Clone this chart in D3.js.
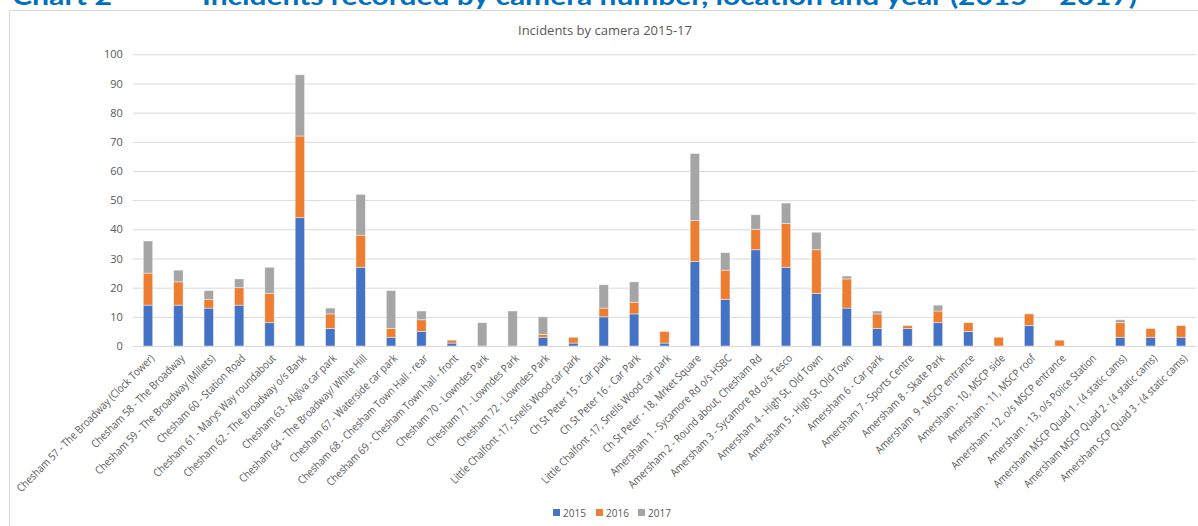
<!DOCTYPE html>
<html>
<head>
<meta charset="utf-8">
<script src="https://cdn.jsdelivr.net/npm/d3@7"></script>
<style>
  html, body { margin: 0; padding: 0; background: #fff; }
  svg { display: block; }
  text { font-family: "Open Sans", "Liberation Sans", sans-serif; }
</style>
</head>
<body>
<svg id="chart" width="1198" height="526"></svg>
<script>
// Camera locations, in display order
const cameras = [
  "Chesham 57 - The Broadway (Clock Tower)",
  "Chesham 58 - The Broadway",
  "Chesham 59 - The Broadway (Millets)",
  "Chesham 60 - Station Road",
  "Chesham 61 - Marys Way roundabout",
  "Chesham 62 - The Broadway o/s Bank",
  "Chesham 63 - Algiva car park",
  "Chesham 64 - The Broadway/ White Hill",
  "Chesham 67 - Waterside car park",
  "Chesham 68 - Chesham Town Hall - rear",
  "Chesham 69 - Chesham Town hall - front",
  "Chesham 70 - Lowndes Park",
  "Chesham 71 - Lowndes Park",
  "Chesham 72 - Lowndes Park",
  "Little Chalfont -17, Snells Wood car park",
  "Ch St Peter 15 - Car park",
  "Ch St Peter 16 - Car Park",
  "Little Chalfont -17, Snells Wood car park",
  "Ch St Peter - 18, Mrket Square",
  "Amersham 1 - Sycamore Rd o/s HSBC",
  "Amersham 2 - Round about, Chesham Rd",
  "Amersham 3 - Sycamore Rd o/s Tesco",
  "Amersham 4 - High St, Old Town",
  "Amersham 5 - High St, Old Town",
  "Amersham 6 - Car park",
  "Amersham 7 - Sports Centre",
  "Amersham 8 - Skate Park",
  "Amersham  9 - MSCP entrance",
  "Amersham - 10, MSCP side",
  "Amersham - 11, MSCP roof",
  "Amersham - 12, o/s MSCP entrance",
  "Amersham - 13, o/s Police Station",
  "Amersham MSCP Quad 1 - (4 static cams)",
  "Amersham MSCP Quad 2 - (4 static cams)",
  "Amersham SCP Quad 3 - (4 static cams)"
];

// Incidents per year for each camera
const y2015 = [14, 14, 13, 14, 8, 44, 6, 27, 3, 5, 1, 0, 0, 3, 1, 10, 11, 1, 29, 16, 33, 27, 18, 13, 6, 6, 8, 5, 0, 7, 0, 0, 3, 3, 3];
const y2016 = [11, 8, 3, 6, 10, 28, 5, 11, 3, 4, 1, 0, 0, 1, 2, 3, 4, 4, 14, 10, 7, 15, 15, 10, 5, 1, 4, 3, 3, 4, 2, 0, 5, 3, 4];
const y2017 = [11, 4, 3, 3, 9, 21, 2, 14, 13, 3, 0, 8, 12, 6, 0, 8, 7, 0, 23, 6, 5, 7, 6, 1, 1, 0, 2, 0, 0, 0, 0, 0, 1, 0, 0];

const seriesNames = ["2015", "2016", "2017"];
const seriesColors = ["#4472C4", "#ED7D31", "#A5A5A5"];
const yTicks = [0, 10, 20, 30, 40, 50, 60, 70, 80, 90, 100];

const svg = d3.select("#chart");

// Page heading above the chart frame
svg.append("text")
  .attr("x", 12).attr("y", 5)
  .attr("fill", "#0070C0")
  .attr("font-size", 24).attr("font-weight", "bold")
  .attr("textLength", 100).attr("lengthAdjust", "spacingAndGlyphs")
  .style("font-family", "Lato, 'Open Sans', sans-serif")
  .text("Chart 2");
svg.append("text")
  .attr("x", 202).attr("y", 5)
  .attr("fill", "#0070C0")
  .attr("font-size", 24).attr("font-weight", "bold")
  .attr("textLength", 935).attr("lengthAdjust", "spacingAndGlyphs")
  .style("font-family", "Lato, 'Open Sans', sans-serif")
  .text("Incidents recorded by camera number, location and year (2015 \u2013 2017)");

// Chart frame
svg.append("rect")
  .attr("x", 9.5).attr("y", 10.5)
  .attr("width", 1220).attr("height", 540)
  .attr("fill", "none").attr("stroke", "#d9d9d9").attr("stroke-width", 1);

// Chart title
svg.append("text")
  .attr("x", 518).attr("y", 35)
  .attr("fill", "#595959")
  .attr("font-size", 13.5)
  .attr("textLength", 174).attr("lengthAdjust", "spacingAndGlyphs")
  .text("Incidents by camera 2015-17");

const plot = { left: 132.8, right: 1196.2, top: 54.3, bottom: 346 };

const x = d3.scaleBand()
  .domain(d3.range(cameras.length))
  .range([plot.left, plot.right])
  .paddingInner(0.69)
  .paddingOuter(0.345);

const y = d3.scaleLinear()
  .domain([0, 100])
  .range([plot.bottom, plot.top]);

// Horizontal gridlines and value labels
const yAxis = svg.append("g")
  .attr("transform", `translate(${plot.left},0)`)
  .call(d3.axisLeft(y).tickValues(yTicks).tickSize(-(plot.right - plot.left)).tickPadding(10));
yAxis.select(".domain").remove();
yAxis.selectAll(".tick line").attr("stroke", "#d9d9d9").attr("stroke-width", 1);
yAxis.selectAll(".tick text")
  .attr("fill", "#595959")
  .attr("font-size", 11)
  .style("font-family", "'Open Sans', sans-serif");

// Stacked bars
const rows = cameras.map((c, i) => ({ i, "2015": y2015[i], "2016": y2016[i], "2017": y2017[i] }));
const stacked = d3.stack().keys(seriesNames)(rows);

svg.append("g").selectAll("g")
  .data(stacked)
  .join("g")
  .attr("fill", (d, k) => seriesColors[k])
  .selectAll("rect")
  .data(d => d.filter(s => s[1] > s[0]))
  .join("rect")
  .attr("x", d => x(d.data.i))
  .attr("width", x.bandwidth())
  .attr("y", d => y(d[1]))
  .attr("height", d => y(d[0]) - y(d[1]))
  .attr("stroke", "rgba(255,255,255,0.55)")
  .attr("stroke-width", 0.8);

// Category axis with rotated, condensed labels
const xAxis = svg.append("g")
  .attr("transform", `translate(0,${plot.bottom})`)
  .call(d3.axisBottom(x).tickFormat(i => cameras[i]).tickSize(0).tickSizeOuter(0));
xAxis.select(".domain").attr("stroke", "#d9d9d9");
const labels = xAxis.selectAll(".tick text")
  .attr("fill", "#595959")
  .attr("font-size", 11)
  .attr("text-anchor", "end")
  .attr("dy", null)
  .attr("y", 0)
  .attr("transform", "translate(7,13) rotate(-45)")
  .attr("xml:space", "preserve");
const condense = 0.87;
labels.each(function () {
  const len = this.getComputedTextLength();
  d3.select(this).attr("textLength", len * condense).attr("lengthAdjust", "spacingAndGlyphs");
});

// Legend
const legendX = [553, 596, 638];
const legend = svg.append("g");
seriesNames.forEach((name, k) => {
  legend.append("rect")
    .attr("x", legendX[k]).attr("y", 509)
    .attr("width", 7).attr("height", 7)
    .attr("fill", seriesColors[k]);
  legend.append("text")
    .attr("x", legendX[k] + 10).attr("y", 516.5)
    .attr("fill", "#595959")
    .attr("font-size", 11)
    .attr("textLength", 23).attr("lengthAdjust", "spacingAndGlyphs")
    .text(name);
});
</script>
</body>
</html>
